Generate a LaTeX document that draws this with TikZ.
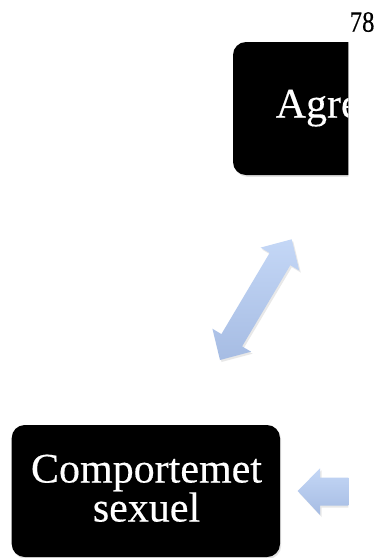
\documentclass[tikz,border=0pt]{standalone}
\usepackage{fontspec}
\setmainfont{Liberation Serif}
\newfontfamily\boxfont{Liberation Serif}[FakeBold=0.35]
\usetikzlibrary{shadows}
\definecolor{arrowtop}{RGB}{196,215,246}
\definecolor{arrowbot}{RGB}{166,188,227}
\begin{document}
\begin{tikzpicture}[x=1pt,y=-1pt,
  blackbox/.style={fill=black, draw=none, rounded corners=13pt,
    drop shadow={opacity=0.22, shadow xshift=1.2pt, shadow yshift=-1.8pt}},
  boxtext/.style={text=white, inner sep=0pt, font=\boxfont\fontsize{42}{39}\selectfont},
  blockarrow/.style={top color=arrowtop, bottom color=arrowbot, draw=none,
    drop shadow={opacity=0.18, shadow xshift=1.5pt, shadow yshift=-2pt}}]
\useasboundingbox (0,0) rectangle (386,558);
\fill[white] (0,0) rectangle (386,558);

% page number
\node[anchor=base west, inner sep=0pt, font=\boxfont\fontsize{29.5}{30}\selectfont] (pagenum) at (349.5,31.7) {\scalebox{0.84}[1]{78}};

\begin{scope}
\clip (0,0) rectangle (348.3,558);
% top box (cut at the right)
\path[blackbox] (233,42) rectangle (420,175);
\node[boxtext, anchor=base west] (agre) at (275.5,117.5) {Agre};
% left block arrow
\path[blockarrow] (297.7,491) -- (320,468.3) -- (320,477.7) -- (370,477.7)
  -- (370,505.7) -- (320,505.7) -- (320,515) -- cycle;
\end{scope}

% double block arrow
\path[blockarrow] (291.7,239.3) -- (299.3,270.6) -- (290.3,265.2) -- (242.1,346.4)
  -- (251.1,351.7) -- (220,360) -- (212.4,328.7) -- (221.4,334.1)
  -- (269.6,253.0) -- (260.6,247.6) -- cycle;

% bottom box
\path[blackbox] (11.7,425) rectangle (280,557);
\node[boxtext, align=center] (comp) at (146.5,488.3) {Comportemet\\sexuel};
\end{tikzpicture}
\end{document}
